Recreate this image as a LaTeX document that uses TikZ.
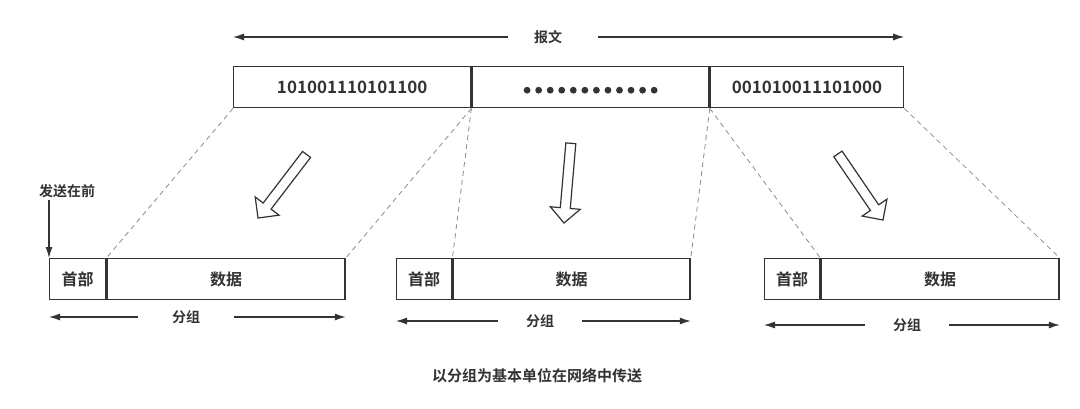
\documentclass[tikz,border=0pt]{standalone}
\usepackage{fontspec}
\setmainfont{Noto Sans CJK SC}[BoldFont={Noto Sans CJK SC Bold}]
\usetikzlibrary{arrows.meta,positioning,calc}
\definecolor{ink}{RGB}{51,51,51}
\definecolor{guide}{RGB}{140,140,140}
\tikzset{
  cell/.style={draw=ink,line width=1.4pt,inner sep=0pt,minimum height=41,
               text=ink,font=\bfseries\fontsize{16}{16}\selectfont},
  lbl/.style={text=ink,inner sep=2pt,font=\bfseries\fontsize{14}{14}\selectfont},
  arr/.style={draw=ink,line width=1.2pt,-{Latex[length=11pt,width=7pt]}},
  guideline/.style={draw=guide,line width=0.8pt,dash pattern=on 5pt off 4pt},
  fatarrow/.pic={\draw[ink,line width=1.2pt,fill=white,line join=miter]
      (-80,-5) -- (-15,-5) -- (-15,-15) -- (0,0) -- (-15,15) -- (-15,5) -- (-80,5) -- cycle;}
}

\begin{document}
\begin{tikzpicture}[x=1pt,y=-1pt]
  \useasboundingbox[fill=white] (0,0) rectangle (1080,409);
  % message
  \node[cell,minimum width=237,anchor=north west,font=\bfseries\fontsize{17}{17}\selectfont] (m1) at (233,66) {101001110101100};
  \node[cell,minimum width=237,right=0pt of m1] (m2) {};
  \node[cell,minimum width=193,right=0pt of m2,font=\bfseries\fontsize{17}{17}\selectfont] (m3) {001010011101000};
  \foreach \k in {0,...,11}
    \fill[ink] ($(m2.center)+(-63.5+11.55*\k,3)$) circle (3.4pt);
  \node[lbl] (msg) at (548,37) {报文};
  \draw[arr] ($(msg.west)+(-24,0)$) -- (msg -| m1.west);
  \draw[arr] ($(msg.east)+(34,0)$) -- (msg -| m3.east);
  % packets
  \foreach \i/\xl/\hw/\dw/\gx/\gy/\gap in {1/49/56/238/186/317/32,2/396/55/237/540/321/26,3/764/55/238/907/325/26}{
    \node[cell,minimum width=\hw,anchor=north west] (h\i) at (\xl,258) {首部};
    \node[cell,minimum width=\dw,right=0pt of h\i] (d\i) {数据};
    \node[lbl] (g\i) at (\gx,\gy) {分组};
    \draw[arr] ($(g\i.west)+(-\gap,0)$) -- (g\i -| h\i.west);
    \draw[arr] ($(g\i.east)+(\gap,0)$) -- (g\i -| d\i.east);
  }
  % split lines
  \draw[guideline] (m1.south west) -- (d1.north west);
  \draw[guideline] (m2.south west) -- (d1.north east);
  \draw[guideline] (m2.south west) -- (d2.north west);
  \draw[guideline] (m3.south west) -- (d2.north east);
  \draw[guideline] (m3.south west) -- (d3.north west);
  \draw[guideline] (m3.south east) -- (d3.north east);
  \pic[rotate=-127.4] at (258,218) {fatarrow};
  \pic[rotate=-94.9] at (564,223) {fatarrow};
  \pic[rotate=-55.7] at (883,220) {fatarrow};
  % first out
  \node[lbl] (first) at (67,191) {发送在前};
  \draw[arr] (first.south -| h1.north west) -- (h1.north west);
  \node[lbl,font=\bfseries\fontsize{15}{15}\selectfont] (cap) at (537,376) {以分组为基本单位在网络中传送};
\end{tikzpicture}
\end{document}
